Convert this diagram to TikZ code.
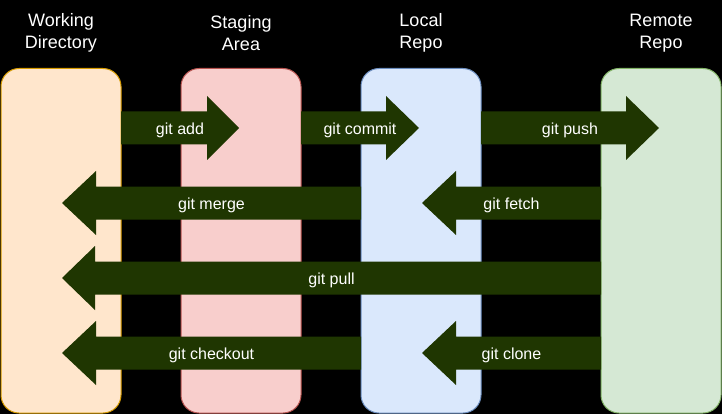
\documentclass[tikz,border=0pt]{standalone}
\usepackage{fontspec}
\setmainfont{Liberation Sans}
\definecolor{arrowgreen}{HTML}{1F3601}
\definecolor{wdfill}{HTML}{FFE6CC}\definecolor{wdline}{HTML}{D79B00}
\definecolor{stfill}{HTML}{F8CECC}\definecolor{stline}{HTML}{B85450}
\definecolor{lrfill}{HTML}{DAE8FC}\definecolor{lrline}{HTML}{6C8EBF}
\definecolor{rrfill}{HTML}{D5E8D4}\definecolor{rrline}{HTML}{82B366}
\tikzset{
  box/.style={rectangle, rounded corners=18pt, line width=1pt, minimum width=120pt, minimum height=344.5pt, inner sep=0pt},
  title/.style={text=white, align=center, font=\fontsize{18}{22}\selectfont, inner sep=0pt},
  lbl/.style={text=white, font=\fontsize{16}{19}\selectfont, inner sep=0pt},
  shaft/.style={fill=arrowgreen, draw=none}
}
\newcommand{\garrow}[6]{%
  \path[shaft] (#2,#5-16.5) -- (#3,#5-16.5) -- (#3,#5-32) -- (#4,#5) -- (#3,#5+32) -- (#3,#5+16.5) -- (#2,#5+16.5) -- cycle;
  \node[lbl] (#1) at ({(#2+#4)/2},#5+2) {#6};}
\begin{document}
\begin{tikzpicture}[x=1pt,y=-1pt]
\useasboundingbox[fill=black] (0,0) rectangle (722,414);
\node[box, fill=wdfill, draw=wdline] (wd) at (61,240.75) {};
\node[box, fill=stfill, draw=stline] (st) at (241,240.75) {};
\node[box, fill=lrfill, draw=lrline] (lr) at (421,240.75) {};
\node[box, fill=rrfill, draw=rrline] (rr) at (661,240.75) {};
\node[title] (wdt) at (61,33) {Working\\Directory};
\node[title] (stt) at (241,33) {Staging\\Area};
\node[title] (lrt) at (421,33) {Local\\Repo};
\node[title] (rrt) at (661,33) {Remote\\Repo};
\garrow{add}{121}{207}{239}{128}{git add}
\garrow{commit}{301}{386}{419}{128}{git commit}
\garrow{push}{481}{626}{659}{128}{git push}
\garrow{merge}{361}{96}{62}{203}{git merge}
\garrow{fetch}{601}{456}{422}{203}{git fetch}
\garrow{pull}{601}{95}{62}{278}{git pull}
\garrow{checkout}{361}{96}{62}{353}{git checkout}
\garrow{clone}{601}{456}{422}{353}{git clone}
\end{tikzpicture}
\end{document}
